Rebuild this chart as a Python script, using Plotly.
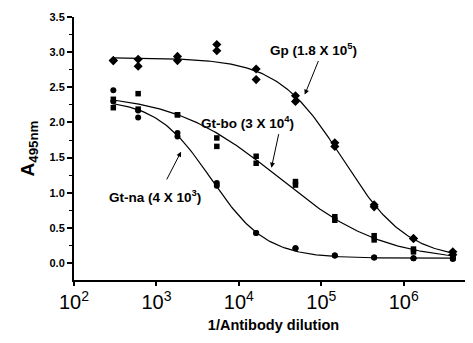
import numpy as np
import plotly.graph_objects as go

# Dilutions (1/Antibody dilution)
dilutions = [300, 600, 1800, 5400, 16200, 48600, 145800, 437400, 1312200, 3936600]

# Replicate readings (A495nm) per dilution
gp_rep1 = [2.88, 2.90, 2.94, 3.11, 2.76, 2.38, 1.71, 0.83, 0.35, 0.16]
gp_rep2 = [2.88, 2.80, 2.88, 3.02, 2.61, 2.30, 1.66, 0.80, 0.35, 0.12]
gtbo_rep1 = [2.33, 2.41, 2.11, 1.78, 1.52, 1.16, 0.66, 0.39, 0.20, 0.09]
gtbo_rep2 = [2.21, 2.19, 2.11, 1.66, 1.42, 1.11, 0.61, 0.33, 0.16, 0.07]
gtna_rep1 = [2.46, 2.17, 1.85, 1.14, 0.43, 0.21, 0.11, 0.08, 0.07, 0.07]
gtna_rep2 = [2.30, 2.07, 1.80, 1.10, 0.43, 0.21, 0.11, 0.08, 0.07, 0.06]

# Four-parameter logistic fit parameters: top, bottom, EC50, slope
gp_fit = (2.92, 0.05, 1.8e5, 1.1)
gtbo_fit = (2.42, 0.02, 3.0e4, 0.68)
gtna_fit = (2.33, 0.07, 4.6e3, 1.3)

labels = ["Gp (1.8 X 10<sup>5</sup>)", "Gt-bo (3 X 10<sup>4</sup>)", "Gt-na (4 X 10<sup>3</sup>)"]

y_ticks = [0.0, 0.5, 1.0, 1.5, 2.0, 2.5, 3.0, 3.5]


def logistic(x, p):
    top, bottom, c, h = p
    return bottom + (top - bottom) / (1.0 + (x / c) ** h)


xs = np.logspace(np.log10(dilutions[0]), np.log10(dilutions[-1]), 200)

fig = go.Figure()
for p in (gp_fit, gtbo_fit, gtna_fit):
    fig.add_trace(go.Scatter(x=xs, y=logistic(xs, p), mode="lines",
                             line=dict(color="black", width=1.2), showlegend=False,
                             hoverinfo="skip"))

for reps, sym, size in (((gp_rep1, gp_rep2), "diamond", 7),
                        ((gtbo_rep1, gtbo_rep2), "square", 5.5),
                        ((gtna_rep1, gtna_rep2), "circle", 6)):
    for r in reps:
        fig.add_trace(go.Scatter(x=dilutions, y=r, mode="markers",
                                 marker=dict(symbol=sym, size=size, color="black"),
                                 showlegend=False))

FONT = "Liberation Sans, Arial, sans-serif"

# label annotations with arrows pointing to curves
ann = [
    (labels[0], 4.91, 3.04, 4.79, 2.37, 15, -37),
    (labels[1], 4.11, 2.0, 4.39, 1.33, 8, -37),
    (labels[2], 2.98, 0.96, 3.31, 1.61, -16, 31),
]
for text, tx, ty, hx, hy, ax, ay in ann:
    fig.add_annotation(x=tx, y=ty, xref="x", yref="y", text="<b>" + text + "</b>",
                       showarrow=False, font=dict(family=FONT, size=13.5, color="black"))
    fig.add_annotation(x=hx, y=hy, xref="x", yref="y", text="", showarrow=True,
                       arrowhead=2, arrowsize=1, arrowwidth=1, arrowcolor="black",
                       ax=ax, ay=ay, standoff=2)

# page body adds an 8px offset, so the figure is sized to fit the window
fig.update_layout(
    width=465, height=335,
    margin=dict(l=66, r=0, t=9, b=63),
    plot_bgcolor="white", paper_bgcolor="white",
    font=dict(family=FONT, size=13, color="black"),
    xaxis=dict(type="log", range=[2, 6.84], dtick=1, exponentformat="power",
               automargin=False,
               showgrid=False, zeroline=False, showline=True, linecolor="black",
               linewidth=2, ticks="outside", ticklen=4, tickwidth=1.5, tickcolor="black",
               tickfont=dict(family=FONT, size=16),
               title=dict(text="<b>1/Antibody dilution</b>", standoff=8,
                          font=dict(family=FONT, size=14.5))),
    yaxis=dict(range=[-0.24, 3.5], tickvals=y_ticks, automargin=False,
               ticktext=["<b>%.1f</b>" % v for v in y_ticks],
               showgrid=False, zeroline=False, showline=True, linecolor="black",
               linewidth=2, ticks="outside", ticklen=5, tickwidth=1.5, tickcolor="black",
               minor=dict(ticks="outside", ticklen=3, tickwidth=1, dtick=0.25,
                          tickcolor="black", showgrid=False),
               tickfont=dict(family=FONT, size=11),
               title=dict(text="<b>A<sub>495nm</sub></b>", standoff=10,
                          font=dict(family=FONT, size=19))),
)

fig.write_html("out.html")
